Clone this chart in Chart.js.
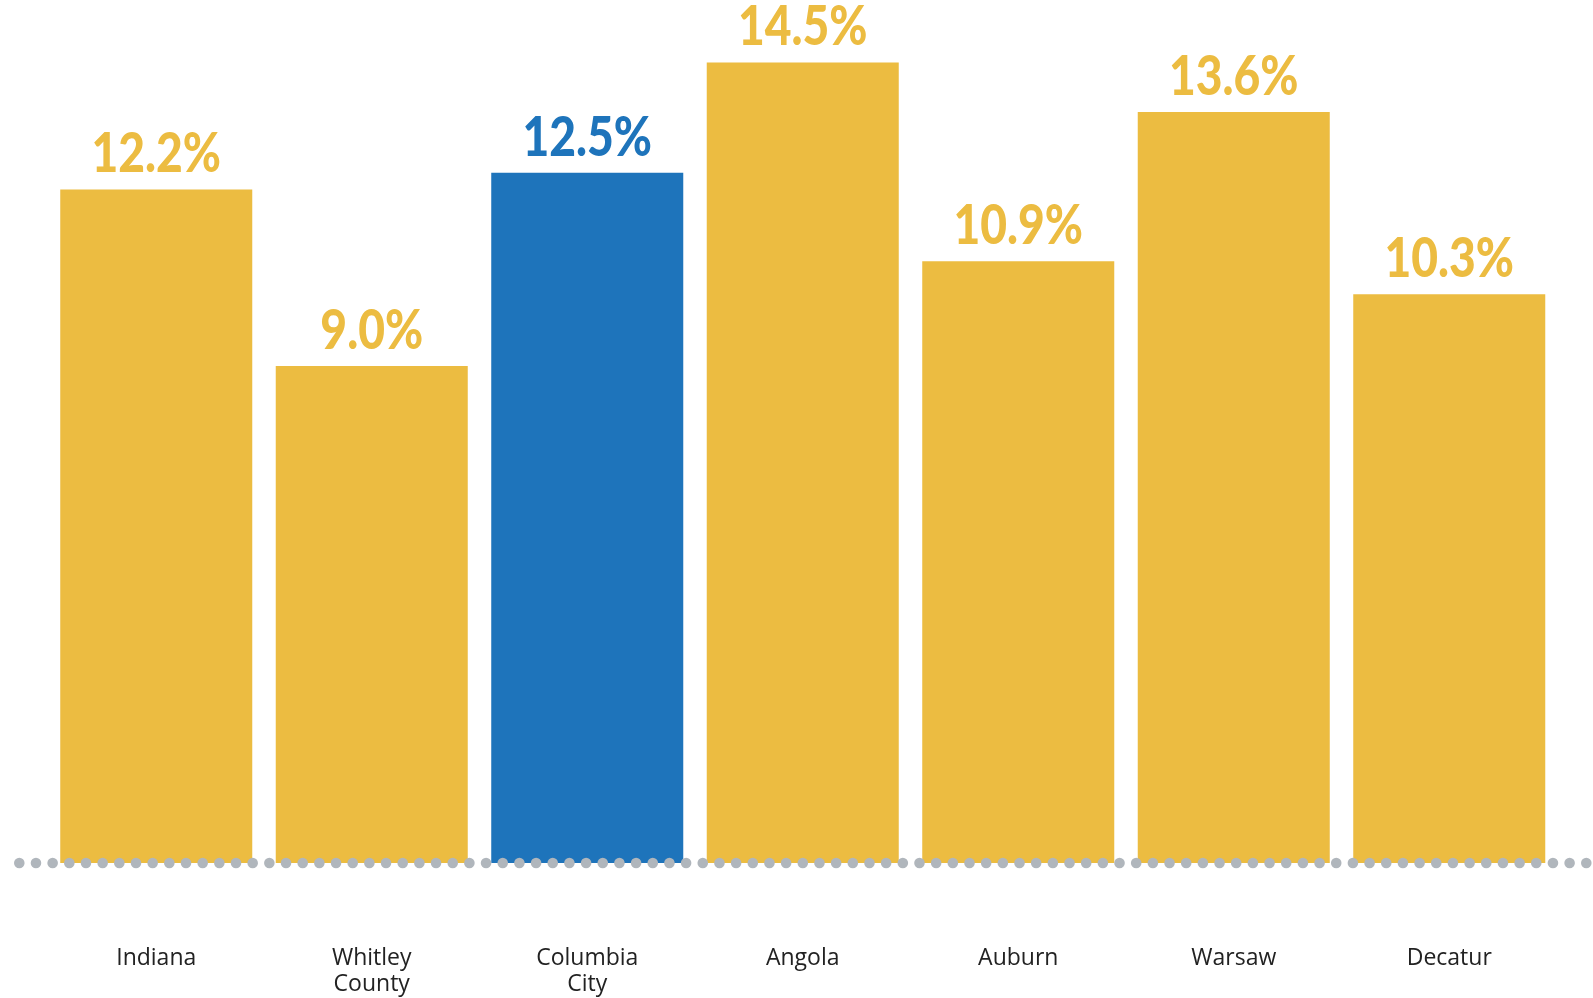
<!DOCTYPE html>
<html>
<head>
<meta charset="utf-8">
<script src="https://cdn.jsdelivr.net/npm/chart.js@4.4.1/dist/chart.umd.min.js"></script>
<style>
  html, body { margin: 0; padding: 0; background: #ffffff; }
  #wrap { width: 1593px; height: 998px; position: relative; }
</style>
</head>
<body>
<div id="wrap"><canvas id="c" width="1593" height="998"></canvas></div>
<script>
const categories = [["Indiana"], ["Whitley", "County"], ["Columbia", "City"], ["Angola"], ["Auburn"], ["Warsaw"], ["Decatur"]];
const values = [12.2, 9.0, 12.5, 14.5, 10.9, 13.6, 10.3];
const highlight = [false, false, true, false, false, false, false];
const valueLabels = ["12.2%", "9.0%", "12.5%", "14.5%", "10.9%", "13.6%", "10.3%"];

const YELLOW = "#ECBC41";
const BLUE = "#1E74BB";
const DOT = "#B0B6BC";

const barColors = highlight.map(h => h ? BLUE : YELLOW);

const dotsPlugin = {
  id: "dots",
  afterDatasetsDraw(chart) {
    const ctx = chart.ctx;
    const y = chart.scales.y.getPixelForValue(0);
    ctx.save();
    ctx.fillStyle = DOT;
    for (let x = 19.3; x < chart.width + 6; x += 16.67) {
      ctx.beginPath();
      ctx.arc(x, y, 5.3, 0, Math.PI * 2);
      ctx.fill();
    }
    ctx.restore();
  }
};

const valueLabelPlugin = {
  id: "valueLabels",
  afterDatasetsDraw(chart) {
    const ctx = chart.ctx;
    const meta = chart.getDatasetMeta(0);
    ctx.save();
    ctx.font = "900 55px Lato";
    ctx.textAlign = "center";
    ctx.textBaseline = "alphabetic";
    meta.data.forEach((bar, i) => {
      ctx.fillStyle = barColors[i];
      ctx.save();
      ctx.translate(bar.x, bar.y - 17);
      ctx.scale(0.84, 1);
      ctx.fillText(valueLabels[i], 0, 0);
      ctx.restore();
    });
    ctx.restore();
  }
};

new Chart(document.getElementById("c"), {
  type: "bar",
  data: {
    labels: categories,
    datasets: [{
      data: values,
      backgroundColor: barColors,
      borderWidth: 0,
      barPercentage: 0.891,
      categoryPercentage: 1.0
    }]
  },
  options: {
    responsive: false,
    animation: false,
    devicePixelRatio: 1,
    layout: { padding: { left: 48.5, right: 36, top: 0, bottom: 0 } },
    plugins: { legend: { display: false }, tooltip: { enabled: false } },
    scales: {
      x: {
        grid: { display: false, drawTicks: false },
        border: { display: false },
        afterFit(scale) { scale.height = 135; },
        ticks: {
          color: "#222222",
          padding: 82,
          maxRotation: 0,
          autoSkip: false,
          font: { family: "'Open Sans'", size: 23, weight: 400, lineHeight: 1.13 }
        }
      },
      y: {
        display: false,
        min: 0,
        max: 15.63
      }
    }
  },
  plugins: [dotsPlugin, valueLabelPlugin]
});
</script>
</body>
</html>
